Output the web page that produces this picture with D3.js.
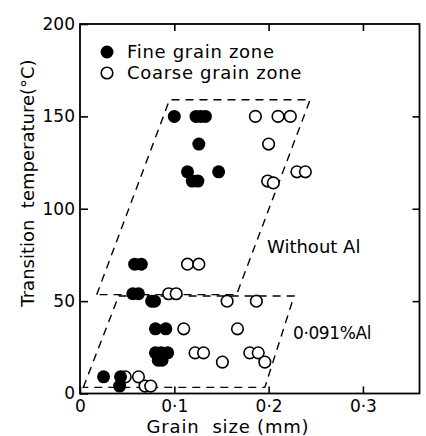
<!DOCTYPE html>
<html>
<head>
<meta charset="utf-8">
<script src="https://cdn.jsdelivr.net/npm/d3@7"></script>
<style>
  body { margin: 0; background: #fff; }
  text { font-family: "DejaVu Sans", sans-serif; fill: #000; }
</style>
</head>
<body>
<script>
// fine grain zone (filled circles)
var fineSize = [0.100, 0.123, 0.128, 0.133, 0.126, 0.114, 0.147, 0.119, 0.125,
                0.058, 0.065, 0.056, 0.062, 0.076, 0.079, 0.080, 0.091,
                0.080, 0.086, 0.093, 0.083, 0.087, 0.025, 0.043, 0.042];
var fineTemp = [150, 150, 150, 150, 135, 120, 120, 115, 115,
                70, 70, 54, 54, 50, 50, 35, 35,
                22, 22, 22, 18, 18, 9, 9, 4];

// coarse grain zone (open circles)
var coarseSize = [0.186, 0.210, 0.223, 0.200, 0.230, 0.239, 0.199, 0.205,
                  0.114, 0.126, 0.094, 0.102, 0.156, 0.187, 0.110, 0.167,
                  0.122, 0.131, 0.180, 0.189, 0.151, 0.196,
                  0.048, 0.062, 0.069, 0.075];
var coarseTemp = [150, 150, 150, 135, 120, 120, 115, 114,
                  70, 70, 54, 54, 50, 50, 35, 35,
                  22, 22, 22, 22, 17, 17,
                  9, 9, 4, 4];

// dashed regions
var noAlSize = [0.0177, 0.095, 0.244, 0.166];
var noAlTemp = [53.5, 159, 159, 53.5];
var alSize = [0.0035, 0.041, 0.227, 0.196];
var alTemp = [3.3, 52.8, 52.8, 3.3];

var xTicks = [0, 0.1, 0.2, 0.3];
var xTickLabels = ["0", "0·1", "0·2", "0·3"];
var yTicks = [0, 50, 100, 150, 200];

var width = 426, height = 436;

var svg = d3.select("body").append("svg")
    .attr("width", width)
    .attr("height", height);

svg.append("rect").attr("width", width).attr("height", height).attr("fill", "#fff");

var x = d3.scaleLinear().domain([0, 0.36]).range([80, 419.5]);
var y = d3.scaleLinear().domain([0, 200]).range([393.5, 24]);

// axes
svg.append("g")
    .attr("transform", "translate(0," + y(0) + ")")
    .call(d3.axisBottom(x).tickValues(xTicks).tickSizeInner(-7).tickSizeOuter(0).tickPadding(6)
      .tickFormat(function(d, i) { return xTickLabels[i]; }));

svg.append("g")
    .attr("transform", "translate(0," + y(200) + ")")
    .call(d3.axisTop(x).tickValues(xTicks.slice(1)).tickSizeInner(-7).tickSizeOuter(0).tickFormat(""));

svg.append("g")
    .attr("transform", "translate(" + x(0) + ",0)")
    .call(d3.axisLeft(y).tickValues(yTicks).tickSizeInner(-8).tickSizeOuter(0).tickPadding(5));

svg.append("g")
    .attr("transform", "translate(" + x(0.36) + ",0)")
    .call(d3.axisRight(y).tickValues(yTicks.slice(1, 4)).tickSizeInner(-7).tickSizeOuter(0).tickFormat(""));

svg.selectAll(".domain").remove();
svg.selectAll(".tick line").attr("stroke", "#000").attr("stroke-width", 1.6);
svg.selectAll(".tick text").attr("font-size", 17).attr("font-family", "DejaVu Sans");

// frame
svg.append("rect")
    .attr("x", x(0)).attr("y", y(200))
    .attr("width", x(0.36) - x(0)).attr("height", y(0) - y(200))
    .attr("fill", "none").attr("stroke", "#000").attr("stroke-width", 1.8);

// dashed regions
var line = d3.line().x(function(d) { return x(d[0]); }).y(function(d) { return y(d[1]); })
    .curve(d3.curveLinearClosed);

[[noAlSize, noAlTemp], [alSize, alTemp]].forEach(function(r) {
  svg.append("path")
      .attr("d", line(d3.zip(r[0], r[1])))
      .attr("fill", "none").attr("stroke", "#000")
      .attr("stroke-width", 1.4).attr("stroke-dasharray", "8,6");
});

// points
svg.append("g").selectAll("circle")
    .data(d3.zip(coarseSize, coarseTemp))
  .enter().append("circle")
    .attr("cx", function(d) { return x(d[0]); })
    .attr("cy", function(d) { return y(d[1]); })
    .attr("r", 5.8)
    .attr("fill", "#fff").attr("stroke", "#000").attr("stroke-width", 1.6);

svg.append("g").selectAll("circle")
    .data(d3.zip(fineSize, fineTemp))
  .enter().append("circle")
    .attr("cx", function(d) { return x(d[0]); })
    .attr("cy", function(d) { return y(d[1]); })
    .attr("r", 6.5)
    .attr("fill", "#000");

// legend
svg.append("circle").attr("cx", 107).attr("cy", 52).attr("r", 6.5).attr("fill", "#000");
svg.append("circle").attr("cx", 107).attr("cy", 73).attr("r", 5.8)
    .attr("fill", "#fff").attr("stroke", "#000").attr("stroke-width", 1.6);
svg.append("text").attr("x", 127).attr("y", 58).attr("font-size", 18)
    .attr("letter-spacing", 0.7).text("Fine grain zone");
svg.append("text").attr("x", 127).attr("y", 79).attr("font-size", 18)
    .attr("letter-spacing", 0.7).text("Coarse grain zone");

// region labels
svg.append("text").attr("x", 267).attr("y", 253).attr("font-size", 18).text("Without Al");
svg.append("text").attr("x", 293).attr("y", 339).attr("font-size", 17)
    .attr("letter-spacing", -0.4).text("0·091%Al");

// axis titles
svg.append("text")
    .attr("x", 228).attr("y", 433)
    .attr("text-anchor", "middle").attr("font-size", 18).attr("letter-spacing", 0.8)
    .attr("xml:space", "preserve")
    .text("Grain  size (mm)");

svg.append("text")
    .attr("transform", "translate(34,183) rotate(-90)")
    .attr("text-anchor", "middle").attr("font-size", 18)
    .attr("xml:space", "preserve")
    .text("Transition  temperature(°C)");
</script>
</body>
</html>
